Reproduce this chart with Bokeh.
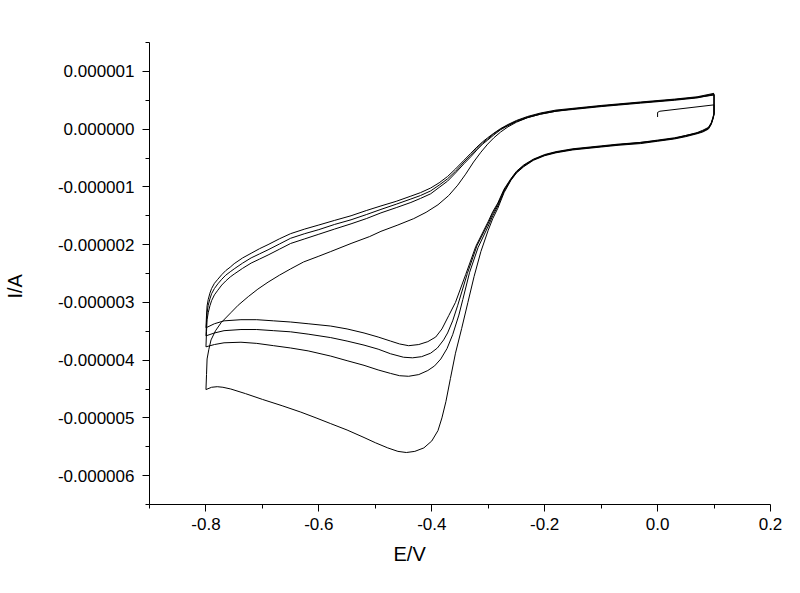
import numpy as np
from bokeh.plotting import figure
from bokeh.models import FixedTicker, PrintfTickFormatter, Title
from bokeh.embed import file_html
from bokeh.resources import INLINE

# ---- data (potential in V, current in microamps) ----
start_E = [0.0, 0.0, 0.004, 0.1]
start_I = [0.21, 0.29, 0.31, 0.42]

# cycle 1: cathodic scan (0.1 -> -0.8) and anodic scan (-0.8 -> 0.1)
c1_E = [0.1, 0.098, 0.095, 0.09, 0.08, 0.07, 0.05, 0.03, 0.0, -0.03,
        -0.07, -0.1, -0.15, -0.18, -0.2, -0.22, -0.237, -0.25, -0.26, -0.272,
        -0.283, -0.292, -0.30, -0.313, -0.325, -0.336, -0.347, -0.358, -0.367, -0.375,
        -0.382, -0.389, -0.40, -0.414, -0.43, -0.445, -0.46, -0.478, -0.50, -0.52,
        -0.55, -0.579, -0.605, -0.632, -0.665, -0.70, -0.73, -0.756, -0.77, -0.78,
        -0.79, -0.8]
c1_I = [0.25, 0.17, 0.08, 0.0, -0.05, -0.08, -0.13, -0.17, -0.21, -0.25,
        -0.28, -0.31, -0.36, -0.41, -0.46, -0.54, -0.65, -0.76, -0.89, -1.1,
        -1.37, -1.55, -1.75, -2.12, -2.55, -3.0, -3.45, -3.88, -4.32, -4.72,
        -5.0, -5.22, -5.40, -5.52, -5.58, -5.60, -5.58, -5.52, -5.43, -5.34,
        -5.21, -5.10, -5.00, -4.90, -4.79, -4.68, -4.58, -4.50, -4.47, -4.46,
        -4.47, -4.51]

a1_E = [-0.8, -0.799, -0.798, -0.795, -0.791, -0.783, -0.773, -0.756, -0.743, -0.725,
        -0.708, -0.69, -0.67, -0.65, -0.627, -0.60, -0.579, -0.543, -0.51, -0.49,
        -0.46, -0.432, -0.41, -0.389, -0.37, -0.354, -0.34, -0.326, -0.313, -0.301,
        -0.29, -0.278, -0.265, -0.25, -0.23, -0.207, -0.18, -0.15, -0.1, -0.03,
        0.03, 0.07, 0.1]
a1_I = [-4.51, -4.25, -3.98, -3.82, -3.65, -3.49, -3.35, -3.18, -3.05, -2.90,
        -2.77, -2.65, -2.53, -2.42, -2.30, -2.20, -2.12, -1.98, -1.86, -1.77,
        -1.66, -1.55, -1.44, -1.31, -1.15, -0.97, -0.78, -0.57, -0.40, -0.26,
        -0.15, -0.05, 0.04, 0.12, 0.20, 0.26, 0.31, 0.35, 0.40, 0.46,
        0.51, 0.55, 0.59]

# cycles 2-4: cathodic scans
c2_E = [0.1, 0.098, 0.095, 0.09, 0.08, 0.07, 0.05, 0.03, 0.0, -0.03,
        -0.07, -0.1, -0.15, -0.18, -0.2, -0.22, -0.237, -0.25, -0.26, -0.272,
        -0.283, -0.292, -0.30, -0.318, -0.333, -0.345, -0.352, -0.363, -0.373, -0.384,
        -0.395, -0.407, -0.423, -0.441, -0.457, -0.473, -0.495, -0.52, -0.55, -0.579,
        -0.619, -0.65, -0.68, -0.71, -0.738, -0.768, -0.785, -0.8]
c2_I = [0.26, 0.18, 0.09, 0.01, -0.04, -0.07, -0.12, -0.16, -0.20, -0.24,
        -0.27, -0.30, -0.35, -0.40, -0.45, -0.53, -0.64, -0.75, -0.88, -1.08,
        -1.33, -1.50, -1.68, -2.05, -2.48, -2.95, -3.22, -3.56, -3.80, -3.98,
        -4.10, -4.18, -4.25, -4.28, -4.27, -4.23, -4.17, -4.09, -4.01, -3.93,
        -3.84, -3.79, -3.75, -3.71, -3.69, -3.70, -3.73, -3.77]

c3_E = [0.1, 0.098, 0.095, 0.09, 0.08, 0.07, 0.05, 0.03, 0.0, -0.03,
        -0.07, -0.1, -0.15, -0.18, -0.2, -0.22, -0.237, -0.25, -0.26, -0.272,
        -0.283, -0.292, -0.30, -0.32, -0.337, -0.354, -0.363, -0.372, -0.379, -0.39,
        -0.402, -0.418, -0.434, -0.45, -0.473, -0.495, -0.52, -0.55, -0.579, -0.619,
        -0.65, -0.68, -0.71, -0.738, -0.768, -0.785, -0.8]
c3_I = [0.27, 0.19, 0.10, 0.02, -0.03, -0.07, -0.11, -0.16, -0.20, -0.23,
        -0.27, -0.30, -0.35, -0.40, -0.45, -0.53, -0.63, -0.74, -0.87, -1.06,
        -1.30, -1.46, -1.63, -2.02, -2.50, -3.05, -3.32, -3.53, -3.65, -3.79,
        -3.88, -3.94, -3.96, -3.95, -3.89, -3.81, -3.74, -3.67, -3.61, -3.55,
        -3.51, -3.49, -3.47, -3.47, -3.49, -3.53, -3.58]

c4_E = [0.1, 0.098, 0.095, 0.09, 0.08, 0.07, 0.05, 0.03, 0.0, -0.03,
        -0.07, -0.1, -0.15, -0.18, -0.2, -0.22, -0.237, -0.25, -0.26, -0.272,
        -0.283, -0.292, -0.30, -0.322, -0.34, -0.358, -0.370, -0.382, -0.393, -0.407,
        -0.423, -0.441, -0.457, -0.473, -0.495, -0.52, -0.55, -0.579, -0.619, -0.65,
        -0.68, -0.71, -0.738, -0.768, -0.785, -0.8]
c4_I = [0.28, 0.20, 0.11, 0.03, -0.02, -0.06, -0.11, -0.15, -0.19, -0.23,
        -0.26, -0.29, -0.34, -0.39, -0.44, -0.52, -0.62, -0.73, -0.86, -1.04,
        -1.28, -1.43, -1.60, -2.03, -2.52, -3.0, -3.23, -3.46, -3.60, -3.68,
        -3.73, -3.75, -3.72, -3.67, -3.60, -3.53, -3.46, -3.41, -3.37, -3.34,
        -3.32, -3.30, -3.30, -3.32, -3.37, -3.44]

# cycles 2-4: anodic scans (shared potential grid)
a_E = [-0.8, -0.799, -0.798, -0.796, -0.793, -0.79, -0.785, -0.779, -0.772, -0.765,
       -0.757, -0.750, -0.735, -0.72, -0.705, -0.690, -0.670, -0.650, -0.625, -0.60,
       -0.572, -0.543, -0.516, -0.49, -0.463, -0.437, -0.42, -0.402, -0.387, -0.372,
       -0.358, -0.343, -0.331, -0.32, -0.31, -0.301, -0.29, -0.278, -0.265, -0.25,
       -0.23, -0.207, -0.18, -0.15, -0.1, -0.03, 0.03, 0.07, 0.1]
a2_I = [-3.77, -3.5, -3.3, -3.18, -3.06, -2.97, -2.87, -2.79, -2.70, -2.63,
        -2.56, -2.51, -2.41, -2.32, -2.25, -2.18, -2.08, -1.98, -1.90, -1.82,
        -1.73, -1.64, -1.55, -1.45, -1.36, -1.27, -1.20, -1.12, -1.01, -0.90,
        -0.76, -0.60, -0.48, -0.36, -0.26, -0.19, -0.10, -0.01, 0.06, 0.13,
        0.20, 0.26, 0.31, 0.34, 0.39, 0.45, 0.50, 0.54, 0.60]
a3_I = [-3.58, -3.35, -3.18, -3.05, -2.94, -2.85, -2.76, -2.68, -2.60, -2.53,
        -2.47, -2.42, -2.32, -2.23, -2.16, -2.09, -1.99, -1.89, -1.81, -1.74,
        -1.65, -1.57, -1.48, -1.39, -1.30, -1.21, -1.15, -1.07, -0.97, -0.86,
        -0.73, -0.57, -0.45, -0.335, -0.24, -0.17, -0.08, 0.0, 0.07, 0.14,
        0.21, 0.27, 0.32, 0.35, 0.40, 0.46, 0.51, 0.55, 0.61]
a4_I = [-3.44, -3.22, -3.06, -2.95, -2.84, -2.76, -2.67, -2.60, -2.52, -2.45,
        -2.39, -2.33, -2.23, -2.15, -2.07, -2.00, -1.90, -1.81, -1.73, -1.66,
        -1.58, -1.50, -1.41, -1.33, -1.25, -1.16, -1.10, -1.02, -0.93, -0.82,
        -0.69, -0.54, -0.42, -0.31, -0.22, -0.15, -0.07, 0.01, 0.08, 0.15,
        0.22, 0.28, 0.33, 0.36, 0.41, 0.47, 0.52, 0.56, 0.62]

x_ticks = [-0.8, -0.6, -0.4, -0.2, 0.0, 0.2]
x_minor = [-0.9, -0.7, -0.5, -0.3, -0.1, 0.1]
y_ticks = [1e-6, 0.0, -1e-6, -2e-6, -3e-6, -4e-6, -5e-6, -6e-6]
y_minor = [1.5e-6, 0.5e-6, -0.5e-6, -1.5e-6, -2.5e-6, -3.5e-6, -4.5e-6, -5.5e-6, -6.5e-6]

# ---- assemble the continuous scan ----
E_all = np.concatenate([start_E, c1_E, a1_E, c2_E, a_E, c3_E, a_E, c4_E, a_E])
I_all = np.concatenate([start_I, c1_I, a1_I, c2_I, a2_I, c3_I, a3_I, c4_I, a4_I]) * 1e-6

FONT = "Liberation Sans"

p = figure(output_backend="svg", toolbar_location=None,
           frame_width=621, frame_height=462,
           x_range=(-0.9, 0.2), y_range=(-6.5e-6, 1.5e-6),
           min_border_left=148, min_border_right=23,
           min_border_top=42, min_border_bottom=79)
p.outline_line_color = None
p.xgrid.visible = False
p.ygrid.visible = False
p.background_fill_color = "white"
p.border_fill_color = "white"

p.line(E_all, I_all, line_color="black", line_width=1)

for ax in (p.xaxis[0], p.yaxis[0]):
    ax.axis_line_color = "black"
    ax.axis_line_width = 1
    ax.major_tick_line_color = "black"
    ax.minor_tick_line_color = "black"
    ax.major_tick_out = 7
    ax.major_tick_in = 0
    ax.minor_tick_out = 4
    ax.minor_tick_in = 0
    ax.major_label_text_font = FONT
    ax.major_label_text_font_size = "17px"
    ax.major_label_text_color = "black"

p.xaxis[0].ticker = FixedTicker(ticks=x_ticks, minor_ticks=x_minor)
p.xaxis[0].formatter = PrintfTickFormatter(format="%.1f")
p.xaxis[0].major_label_standoff = 6
p.yaxis[0].ticker = FixedTicker(ticks=y_ticks, minor_ticks=y_minor)
p.yaxis[0].formatter = PrintfTickFormatter(format="%.6f")
p.yaxis[0].major_label_standoff = 8

p.add_layout(Title(text="E/V", align="left", offset=244, standoff=17,
                   text_font=FONT, text_font_size="20px",
                   text_font_style="normal", text_color="black"), "below")
# blank spacer between the tick labels and the y title
p.add_layout(Title(text=" ", text_font_size="2px", standoff=24), "left")
p.add_layout(Title(text="I/A", align="left", offset=206, standoff=2,
                   text_font=FONT, text_font_size="20px",
                   text_font_style="normal", text_color="black"), "left")

open("out.html", "w").write(file_html(p, INLINE))
